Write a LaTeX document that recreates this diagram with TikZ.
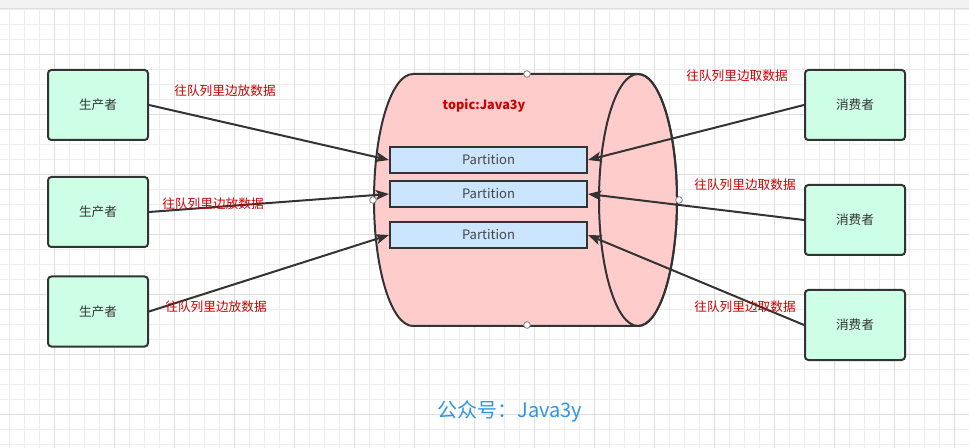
\documentclass[tikz,border=0pt]{standalone}
\usepackage{fontspec}
\setmainfont{Noto Sans CJK SC}
\usetikzlibrary{arrows.meta}
\definecolor{gridminor}{HTML}{EDEDED}
\definecolor{gridmajor}{HTML}{DEDEDE}
\definecolor{topband}{HTML}{F2F2F2}
\definecolor{boxline}{HTML}{333333}
\definecolor{rolefill}{HTML}{CCFFE6}
\definecolor{drumfill}{HTML}{FFCCCC}
\definecolor{partfill}{HTML}{CCE5FF}
\definecolor{labelred}{HTML}{CC0000}
\definecolor{brandblue}{HTML}{2E95E6}
\tikzset{
	role/.style={draw=boxline, fill=rolefill, line width=1.5pt, rounded corners=2.5pt,
		minimum width=75pt, minimum height=52.5pt, text=boxline,
		font=\fontsize{9.5}{11}\selectfont},
	partbox/.style={draw=boxline, fill=partfill, line width=1.5pt, inner sep=0pt,
		minimum width=147.75pt, minimum height=19.5pt, text=boxline!90,
		font=\fontsize{9.8}{11}\selectfont},
	link/.style={draw=boxline, line width=1.5pt,
		-{Stealth[length=10pt,width=7.5pt,inset=2.5pt]}},
	tag/.style={text=labelred, inner sep=0pt, font=\fontsize{9.5}{11}\selectfont},
	handle/.style={circle, draw=gray, fill=white, line width=0.6pt,
		minimum size=5pt, inner sep=0pt},
	drum/.style={draw=boxline, fill=drumfill, line width=1.5pt},
}

\begin{document}
\begin{tikzpicture}[x=0.75pt, y=-0.75pt]
		%%%%% START %%%%%
		\useasboundingbox (0,0) rectangle (969,448);
		
		% background grid
		\fill[white] (0,0) rectangle (969,448);
		\fill[topband] (0,0) rectangle (969,9);
		\foreach \gx in {0,...,64}
			\draw[gridminor, line width=0.75pt] ({9.3+15*\gx},9) -- ({9.3+15*\gx},448);
		\foreach \gy in {0,...,29}
			\draw[gridminor, line width=0.75pt] (0,{9.3+15*\gy}) -- (969,{9.3+15*\gy});
		\foreach \gx in {0,...,15}
			\draw[gridmajor, line width=0.75pt] ({54.3+60*\gx},9) -- ({54.3+60*\gx},448);
		\foreach \gy in {0,...,6}
			\draw[gridmajor, line width=0.75pt] (0,{54.3+60*\gy}) -- (969,{54.3+60*\gy});
		\draw[gridmajor, line width=0.75pt] (0,9) -- (969,9);
		
		% topic drum
		\draw[drum] (413,74) -- (638,74)
			arc[start angle=90, end angle=-90, x radius=29.25pt, y radius=94.5pt]
			-- (413,326)
			arc[start angle=-90, end angle=-270, x radius=29.25pt, y radius=94.5pt]
			-- cycle;
		\draw[drum, fill=none] (638,200) ellipse [x radius=29.25pt, y radius=94.5pt];
		
		\node[text=labelred, font=\bfseries\fontsize{9.5}{11}\selectfont] (topic) at (484,106) {topic:Java3y};
		
		\node[partbox] (part1) at (488.5,160) {Partition};
		\node[partbox] (part2) at (488.5,194) {Partition};
		\node[partbox] (part3) at (488.5,235) {Partition};
		
		% producers
		\node[role] (prod1) at (98,105) {生产者};
		\node[role] (prod2) at (98,212) {生产者};
		\node[role] (prod3) at (98,311.5) {生产者};
		
		% consumers
		\node[role] (cons1) at (855,105) {消费者};
		\node[role] (cons2) at (855,220) {消费者};
		\node[role] (cons3) at (855,325) {消费者};
		
		\draw[link] (prod1.east) -- (part1.west);
		\draw[link] (prod2.east) -- (part2.west);
		\draw[link] (prod3.east) -- (part3.west);
		\draw[link] (cons1.west) -- (part1.east);
		\draw[link] (cons2.west) -- (part2.east);
		\draw[link] (cons3.west) -- (part3.east);
		
		\node[tag] (put1) at (225,91) {往队列里边放数据};
		\node[tag] (put2) at (213,204) {往队列里边放数据};
		\node[tag] (put3) at (216,307) {往队列里边放数据};
		\node[tag] (take1) at (737,76) {往队列里边取数据};
		\node[tag] (take2) at (745,185) {往队列里边取数据};
		\node[tag] (take3) at (745,307) {往队列里边取数据};
		
		% handles
		\node[handle] (hTop) at (527,74) {};
		\node[handle] (hBottom) at (527,325) {};
		\node[handle] (hLeft) at (373,200) {};
		\node[handle] (hRight) at (679,200) {};
		
		\node[text=brandblue, font=\fontsize{15}{18}\selectfont] (brand) at (510,411) {公众号：Java3y};
		
		%%%%% END %%%%%
\end{tikzpicture}
\end{document}
